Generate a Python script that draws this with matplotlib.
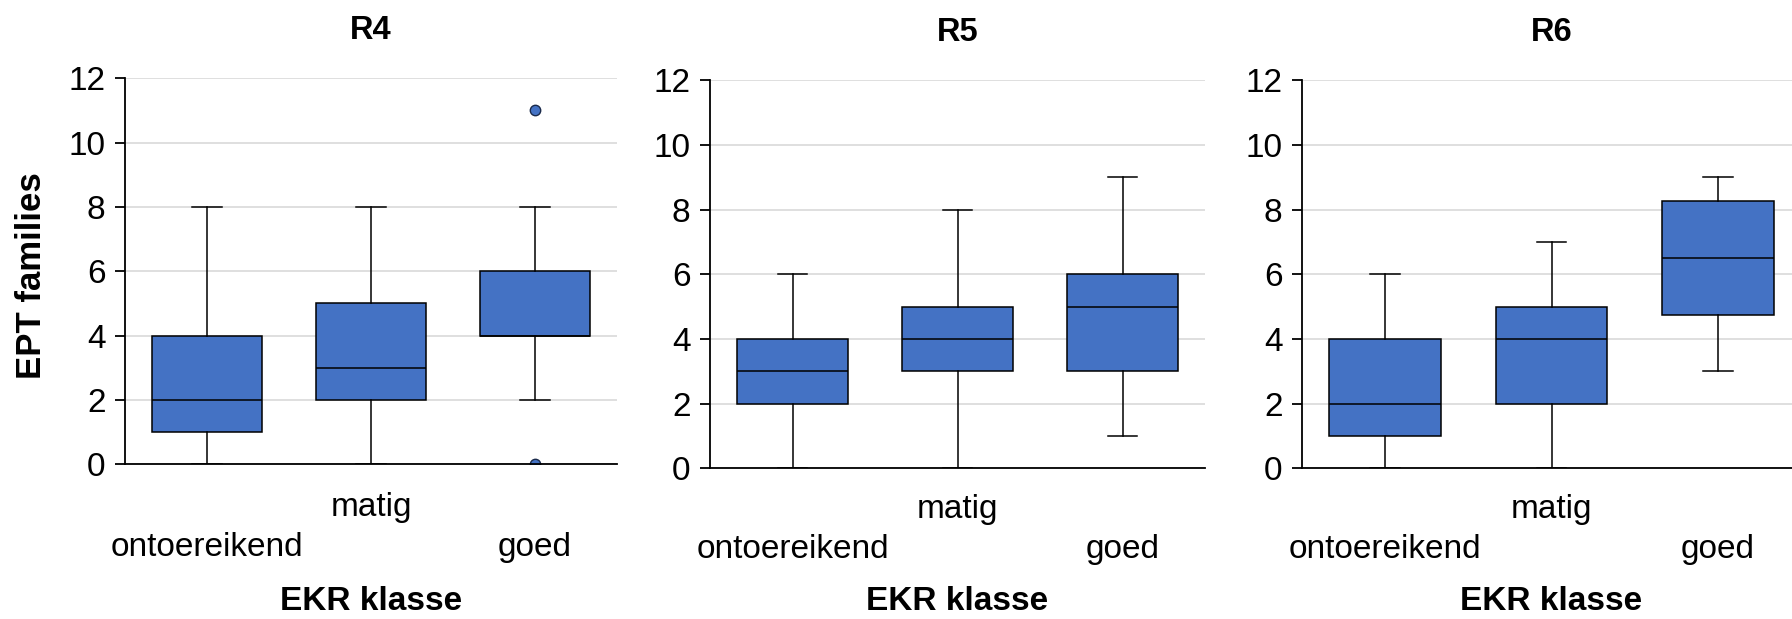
import matplotlib
matplotlib.use("Agg")
import matplotlib.pyplot as plt

plt.rcParams['font.family'] = ['Liberation Sans', 'DejaVu Sans']

# EKR classes on the x axis
categories = ['ontoereikend', 'matig', 'goed']
regions = ['R4', 'R5', 'R6']

# box plot summaries per region (whisker low, Q1, median, Q3, whisker high)
r4_whislo = [0, 0, 2]
r4_q1 = [1, 2, 4]
r4_med = [2, 3, 4]
r4_q3 = [4, 5, 6]
r4_whishi = [8, 8, 8]
r4_fliers = [[], [], [11, 0]]

r5_whislo = [0, 0, 1]
r5_q1 = [2, 3, 3]
r5_med = [3, 4, 5]
r5_q3 = [4, 5, 6]
r5_whishi = [6, 8, 9]
r5_fliers = [[], [], []]

r6_whislo = [0, 0, 3]
r6_q1 = [1, 2, 4.75]
r6_med = [2, 4, 6.5]
r6_q3 = [4, 5, 8.25]
r6_whishi = [6, 7, 9]
r6_fliers = [[], [], []]

yticks = [0, 2, 4, 6, 8, 10, 12]

BOX_COLOR = '#4472C4'
GRID_COLOR = '#dcdcdc'


def make_stats(whislo, q1, med, q3, whishi, fliers):
    stats = []
    for i in range(len(categories)):
        stats.append({'whislo': whislo[i], 'q1': q1[i], 'med': med[i],
                      'q3': q3[i], 'whishi': whishi[i],
                      'fliers': fliers[i], 'label': categories[i]})
    return stats


panel_stats = [
    make_stats(r4_whislo, r4_q1, r4_med, r4_q3, r4_whishi, r4_fliers),
    make_stats(r5_whislo, r5_q1, r5_med, r5_q3, r5_whishi, r5_fliers),
    make_stats(r6_whislo, r6_q1, r6_med, r6_q3, r6_whishi, r6_fliers),
]

W, H = 1792, 619
fig = plt.figure(figsize=(W / 100, H / 100), dpi=100)

# axes extents in pixels; the last panel runs off the right edge
lefts = [125, 710, 1302]
rights = [617, 1205, 1801]
tops = [78.3, 80.2, 80.2]
bottoms = [464.3, 468.3, 468.3]

# category label pads (pt) and x-label top (px) per panel
upper_pads = [19.6, 18.4, 18.4]
lower_pads = [48.5, 47.0, 47.0]
xlabel_top_px = 586.0

line_kw = dict(color='black', linewidth=1.1)

for k in range(3):
    ax_h = bottoms[k] - tops[k]
    ax = fig.add_axes([lefts[k] / W, 1 - bottoms[k] / H,
                       (rights[k] - lefts[k]) / W, ax_h / H])
    ax.bxp(panel_stats[k], positions=range(len(categories)), widths=0.67,
           capwidths=0.18, patch_artist=True, showfliers=True,
           boxprops=dict(facecolor=BOX_COLOR, edgecolor='black', linewidth=1.1),
           medianprops=line_kw, whiskerprops=line_kw, capprops=line_kw,
           flierprops=dict(marker='o', markerfacecolor=BOX_COLOR,
                           markeredgecolor='#1a2a4a', markersize=7.5,
                           markeredgewidth=1.0))

    ax.set_xlim(-0.5, 2.5)
    ax.set_ylim(0, 12)
    ax.set_yticks(yticks)
    ax.yaxis.grid(True, color=GRID_COLOR, linewidth=1.3)
    ax.set_axisbelow(True)

    for side in ['top', 'right']:
        ax.spines[side].set_visible(False)
    ax.spines['left'].set_linewidth(1.3)
    ax.spines['bottom'].set_linewidth(1.3)

    ax.tick_params(axis='y', length=7, width=1.3, pad=7, labelsize=24)
    ax.tick_params(axis='x', length=0, labelsize=24)

    ax.set_xticks(range(len(categories)))
    ax.set_xticklabels(categories)
    # staggered category labels: middle one sits on the upper row
    for i, tick in enumerate(ax.xaxis.get_major_ticks()):
        tick.set_pad(upper_pads[k] if i == 1 else lower_pads[k])

    ax.set_title(regions[k], fontsize=23.5, fontweight='bold', pad=28)
    ax.set_xlabel('EKR klasse', fontsize=24, fontweight='bold')
    ax.xaxis.set_label_coords(0.5, -(xlabel_top_px - bottoms[k]) / ax_h)

    if k == 0:
        ax.set_ylabel('EPT families', fontsize=25, fontweight='bold')
        ax.yaxis.set_label_coords(-0.157, 0.49)

fig.savefig('out.png', dpi=100)
